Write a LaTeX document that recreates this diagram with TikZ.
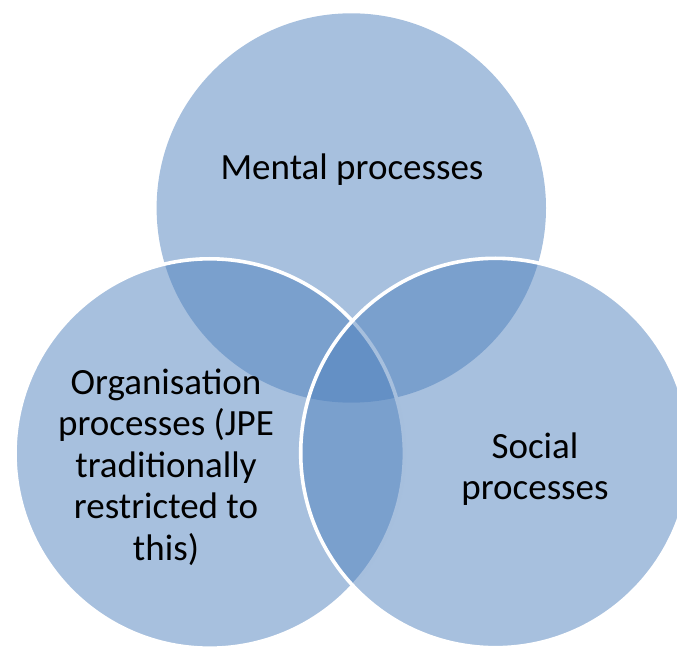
\documentclass[tikz,border=0pt]{standalone}
\usepackage{fontspec}
\setmainfont{Carlito}
\definecolor{vennblue}{HTML}{4F81BD}
\begin{document}
\begin{tikzpicture}[x=1pt,y=1pt,
  venn/.style={circle, minimum size=389.4pt, inner sep=0pt, fill=vennblue, fill opacity=0.5},
  vennedge/.style={venn, draw=white, line width=3.6pt, draw opacity=1},
  label/.style={align=center, font=\fontsize{37}{41.5}\selectfont, text=black, inner sep=0pt}]
  \useasboundingbox (0,0) rectangle (677,646);
  % the three overlapping sets, drawn top, left, right
  \node[venn]     (mental) at (351.3,438) {};
  \node[vennedge] (organ)  at (209.7,192.5) {};
  \node[vennedge] (social) at (495.4,193) {};
  % set names
  \node[label] (mentaltext) at (352,476) {Mental processes};
  \node[label] (organtext)  at (166,179) {Organisation\\processes (JPE\\traditionally\\restricted to\\this)};
  \node[label] (socialtext) at (535,177) {Social\\processes};
\end{tikzpicture}
\end{document}
